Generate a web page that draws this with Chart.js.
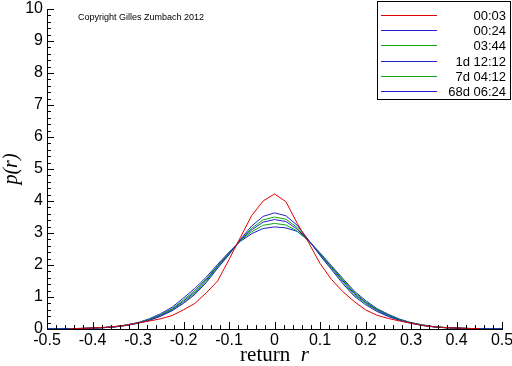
<!DOCTYPE html>
<html lang="en">
<head>
    <meta charset="UTF-8">
    <title>p(r) return distribution</title>
    <script src="https://cdn.jsdelivr.net/npm/chart.js"></script>
    <style>
        html, body { margin: 0; padding: 0; background: #ffffff; }
        .grafico { width: 512px; height: 366px; }
    </style>
</head>
<body>
    <div class="grafico"><canvas id="meuGrafico"></canvas></div>

<script>
    // returns r (x axis)
    var retornos = [-0.5, -0.475, -0.45, -0.425, -0.4, -0.375, -0.35, -0.325, -0.3, -0.275,
        -0.25, -0.225, -0.2, -0.175, -0.15, -0.125, -0.1, -0.075, -0.05, -0.025,
        0, 0.025, 0.05, 0.075, 0.1, 0.125, 0.15, 0.175, 0.2, 0.225,
        0.25, 0.275, 0.3, 0.325, 0.35, 0.375, 0.4, 0.425, 0.45, 0.475, 0.5];

    var horizontes = ['00:03', '00:24', '03:44', '1d 12:12', '7d 04:12', '68d 06:24'];

    var p_0003 = [null, null, 0.01, 0.02, 0.03, 0.05, 0.08, 0.12, 0.19, 0.25,
        0.32, 0.42, 0.60, 0.80, 1.13, 1.50, 2.17, 2.86, 3.55, 4.00,
        4.22, 3.98, 3.30, 2.70, 2.05, 1.55, 1.17, 0.86, 0.60, 0.43,
        0.33, 0.25, 0.18, 0.11, 0.07, 0.04, 0.03, 0.02, 0.01, null, null];

    var p_0024 = [0.004, 0.006, 0.01, 0.015, 0.025, 0.04, 0.065, 0.11, 0.18, 0.27,
        0.40, 0.57, 0.80, 1.08, 1.45, 1.90, 2.32, 2.80, 3.22, 3.52,
        3.63, 3.54, 3.24, 2.78, 2.30, 1.86, 1.42, 1.03, 0.76, 0.55,
        0.39, 0.27, 0.18, 0.11, 0.065, 0.04, 0.025, 0.015, 0.01, 0.006, 0.004];

    var p_0344 = [0.004, 0.006, 0.01, 0.016, 0.026, 0.042, 0.068, 0.115, 0.185, 0.28,
        0.41, 0.59, 0.83, 1.12, 1.49, 1.93, 2.34, 2.78, 3.15, 3.41,
        3.50, 3.43, 3.17, 2.77, 2.32, 1.90, 1.47, 1.07, 0.80, 0.58,
        0.40, 0.28, 0.185, 0.115, 0.068, 0.042, 0.026, 0.016, 0.01, 0.006, 0.004];

    var p_1d = [0.004, 0.006, 0.01, 0.016, 0.027, 0.044, 0.07, 0.12, 0.19, 0.29,
        0.43, 0.61, 0.87, 1.16, 1.53, 1.96, 2.36, 2.77, 3.10, 3.34,
        3.42, 3.36, 3.12, 2.76, 2.34, 1.93, 1.51, 1.11, 0.83, 0.60,
        0.42, 0.29, 0.19, 0.12, 0.07, 0.044, 0.027, 0.016, 0.01, 0.006, 0.004];

    var p_7d = [0.004, 0.006, 0.01, 0.017, 0.028, 0.045, 0.072, 0.125, 0.195, 0.30,
        0.45, 0.64, 0.91, 1.21, 1.57, 1.98, 2.38, 2.76, 3.04, 3.24,
        3.30, 3.25, 3.06, 2.75, 2.36, 1.96, 1.55, 1.15, 0.86, 0.62,
        0.44, 0.30, 0.195, 0.125, 0.072, 0.045, 0.028, 0.017, 0.01, 0.006, 0.004];

    var p_68d = [0.004, 0.006, 0.01, 0.018, 0.03, 0.047, 0.075, 0.13, 0.20, 0.32,
        0.48, 0.68, 0.97, 1.27, 1.62, 2.02, 2.40, 2.74, 2.98, 3.14,
        3.19, 3.16, 3.05, 2.76, 2.38, 1.98, 1.58, 1.19, 0.89, 0.64,
        0.46, 0.31, 0.20, 0.13, 0.075, 0.047, 0.03, 0.018, 0.01, 0.006, 0.004];

    var series = [p_0003, p_0024, p_0344, p_1d, p_7d, p_68d];
    var cores = ['#e00000', '#2020d0', '#10a810', '#2020d0', '#10a810', '#2020d0'];

    var datasets = series.map((serie, i) => ({
        label: horizontes[i],
        data: retornos.map((r, j) => ({ x: r, y: serie[j] })),
        borderColor: cores[i],
        backgroundColor: cores[i],
        borderWidth: 1,
        pointRadius: 0,
        tension: 0,
        spanGaps: false
    }));

    // ticks pointing inwards, major + minor
    var ticksDentro = {
        id: 'ticksDentro',
        afterDraw(chart) {
            var ctx = chart.ctx;
            var xs = chart.scales.x, ys = chart.scales.y;
            var area = chart.chartArea;
            ctx.save();
            ctx.strokeStyle = '#000000';
            ctx.lineWidth = 1;
            ctx.beginPath();
            for (var k = 0; k <= 50; k++) {
                var v = -0.5 + k * 0.02;
                var px = Math.round(xs.getPixelForValue(v)) + 0.5;
                var len = (k % 5 === 0) ? 7 : 4;
                ctx.moveTo(px, area.bottom);
                ctx.lineTo(px, area.bottom - len);
            }
            for (var k = 0; k <= 50; k++) {
                var v = k * 0.2;
                var py = Math.round(ys.getPixelForValue(v)) + 0.5;
                var len = (k % 5 === 0) ? 7 : 4;
                ctx.moveTo(area.left, py);
                ctx.lineTo(area.left + len, py);
            }
            ctx.stroke();
            ctx.restore();
        }
    };

    // legend box, copyright note, x title with italic r
    var legendaCaixa = {
        id: 'legendaCaixa',
        afterDraw(chart) {
            var ctx = chart.ctx;
            var area = chart.chartArea;
            ctx.save();
            var bx = 377, by = 1, bw = 134, bh = 99;
            ctx.fillStyle = '#ffffff';
            ctx.fillRect(bx, by, bw, bh);
            ctx.strokeStyle = '#000000';
            ctx.lineWidth = 1;
            ctx.strokeRect(bx + 0.5, by + 0.5, bw - 1, bh - 1);
            ctx.font = '13px "Liberation Sans", Arial, sans-serif';
            ctx.textAlign = 'right';
            ctx.textBaseline = 'middle';
            chart.data.datasets.forEach((ds, i) => {
                var y = Math.round(by + 14 + i * 15.2);
                ctx.fillStyle = cores[i];
                ctx.fillRect(bx + 4, y, 56, 1);
                ctx.fillStyle = '#000000';
                ctx.fillText(ds.label, bx + bw - 5, y + 1);
            });
            ctx.font = '9px "Liberation Sans", Arial, sans-serif';
            ctx.textAlign = 'left';
            ctx.fillText('Copyright Gilles Zumbach 2012', area.left + 31, area.top + 9);

            // titulo do eixo x: "return" normal + "r" italico
            var fonteNormal = '21px "Liberation Serif", "Times New Roman", serif';
            var fonteItalico = 'italic 21px "Liberation Serif", "Times New Roman", serif';
            ctx.font = fonteNormal;
            var w1 = ctx.measureText('return  ').width;
            ctx.font = fonteItalico;
            var w2 = ctx.measureText('r').width;
            var x0 = (area.left + area.right) / 2 - (w1 + w2) / 2;
            var yt = 355;
            ctx.textBaseline = 'middle';
            ctx.font = fonteNormal;
            ctx.fillText('return  ', x0, yt);
            ctx.font = fonteItalico;
            ctx.fillText('r', x0 + w1, yt);
            ctx.restore();
        }
    };

    var config = {
        type: 'line',
        data: { datasets: datasets },
        options: {
            responsive: true,
            maintainAspectRatio: false,
            animation: false,
            layout: { padding: { left: 0, right: 10, top: 9, bottom: 0 } },
            plugins: {
                legend: { display: false },
                tooltip: { enabled: false }
            },
            scales: {
                x: {
                    type: 'linear',
                    min: -0.5,
                    max: 0.5,
                    afterFit: function (scale) {
                        scale.height = 37;
                        scale.paddingLeft = 0;
                        scale.paddingRight = 0;
                    },
                    grid: { display: false, drawTicks: false },
                    border: { display: true, color: '#000000', width: 1 },
                    ticks: {
                        stepSize: 0.1,
                        padding: 2,
                        color: '#000000',
                        font: { family: '"Liberation Sans", Arial, sans-serif', size: 16 },
                        maxRotation: 0,
                        callback: function (value) {
                            var s = Number(value).toFixed(1);
                            if (s === '0.0' || s === '-0.0') return '0';
                            return s;
                        }
                    },
                    title: { display: false }
                },
                y: {
                    min: 0,
                    max: 10,
                    afterFit: function (scale) {
                        scale.width = 47;
                        scale.paddingTop = 0;
                        scale.paddingBottom = 0;
                    },
                    grid: { display: false, drawTicks: false },
                    border: { display: true, color: '#000000', width: 1 },
                    ticks: {
                        stepSize: 1,
                        padding: 4,
                        color: '#000000',
                        font: { family: '"Liberation Sans", Arial, sans-serif', size: 16 }
                    },
                    title: {
                        display: true,
                        text: 'p(r)',
                        color: '#000000',
                        padding: { top: 0, bottom: 6 },
                        font: { family: '"Liberation Serif", "Times New Roman", serif', size: 20, style: 'italic' }
                    }
                }
            }
        },
        plugins: [ticksDentro, legendaCaixa]
    };

    new Chart(document.getElementById('meuGrafico').getContext('2d'), config);
</script>
</body>
</html>
